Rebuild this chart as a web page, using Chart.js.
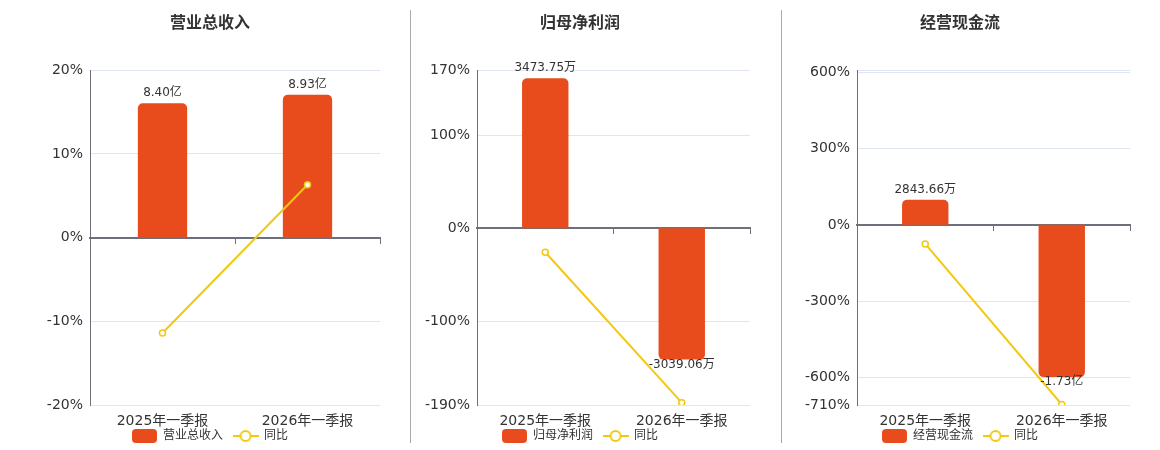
<!DOCTYPE html>
<html>
<head>
<meta charset="utf-8">
<script src="https://cdn.jsdelivr.net/npm/chart.js@4.4.1/dist/chart.umd.min.js"></script>
<style>
    body { margin: 0; background: #fff; width: 1160px; height: 450px; overflow: hidden; position: relative; }
    canvas { position: absolute; top: 0; }
    .sep { position: absolute; top: 10px; width: 1px; height: 433px; background: #aaa; }
</style>
</head>
<body>
<canvas id="c1" width="380" height="450" style="left:20px"></canvas>
<canvas id="c2" width="380" height="450" style="left:390px"></canvas>
<canvas id="c3" width="380" height="450" style="left:770px"></canvas>
<div class="sep" style="left:410px"></div>
<div class="sep" style="left:781px"></div>
<script>
// categories and values (amounts in 万, yoy in %)
var categories = ['2025年一季报', '2026年一季报'];

var revenue = [84000, 89300];
var revenueYoy = [-11.4, 6.31];
var revenueTicks = [-20, -10, 0, 10, 20];
var revenueTickLabels = ['-20%', '-10%', '0%', '10%', '20%'];
var revenueBarRange = [-104600, 104600];

var netProfit = [3473.75, -3039.06];
var netProfitYoy = [-25.8, -187.5];
var netProfitTicks = [-190, -100, 0, 100, 170];
var netProfitTickLabels = ['-190%', '-100%', '0%', '100%', '170%'];
var netProfitBarRange = [-4090, 3660];

var cashFlow = [2843.66, -17300];
var cashFlowYoy = [-75, -708];
var cashFlowTicks = [-710, -600, -300, 0, 300, 600, 610];
var cashFlowTickLabels = ['-710%', '-600%', '-300%', '0%', '300%', '600%', ''];
var cashFlowBarRange = [-20470, 17570];

var BAR = '#E84C1D';
var LINE = '#F2C811';
var AXIS = '#6E7079';
var GRID = '#E0E6F1';

Chart.defaults.font.family = '"DejaVu Sans", "Noto Sans CJK SC", sans-serif';
Chart.defaults.color = '#333';
Chart.defaults.animation = false;

function fmtAmount(v) {
    if (Math.abs(v) >= 10000) return (v / 10000).toFixed(2) + '亿';
    return v.toFixed(2) + '万';
}

function barIcon() {
    var c = document.createElement('canvas');
    c.width = 25; c.height = 14;
    var g = c.getContext('2d');
    g.fillStyle = BAR;
    g.beginPath();
    g.roundRect(0, 0, 25, 14, 4);
    g.fill();
    return c;
}

function lineIcon() {
    var c = document.createElement('canvas');
    c.width = 26; c.height = 14;
    var g = c.getContext('2d');
    g.strokeStyle = LINE;
    g.lineWidth = 2;
    g.beginPath(); g.moveTo(0, 7); g.lineTo(26, 7); g.stroke();
    g.beginPath(); g.arc(13, 7, 5, 0, Math.PI * 2);
    g.fillStyle = '#fff'; g.fill(); g.stroke();
    return c;
}

// value labels on the bars
var barLabels = {
    id: 'barLabels',
    afterLayout: function (chart) {
        // let the category labels run into the legend band instead of being clipped
        chart.scales.x.bottom = chart.height;
    },
    afterDatasetsDraw: function (chart) {
        var ctx = chart.ctx;
        var meta = chart.getDatasetMeta(0);
        var data = chart.data.datasets[0].data;
        ctx.save();
        ctx.font = '12px ' + Chart.defaults.font.family;
        ctx.fillStyle = '#333';
        ctx.textAlign = 'center';
        ctx.textBaseline = 'middle';
        meta.data.forEach(function (el, i) {
            var v = data[i];
            var y = v >= 0 ? el.y - 10 : el.y + 5;
            ctx.fillText(fmtAmount(v), el.x, y);
        });
        ctx.restore();
    }
};

function makeChart(id, title, name, amounts, yoy, ticks, tickLabels, barRange, axisWidth) {
    var icons = [barIcon(), lineIcon()];
    return new Chart(document.getElementById(id), {
        type: 'bar',
        data: {
            labels: categories,
            datasets: [{
                type: 'bar',
                label: name,
                data: amounts,
                yAxisID: 'yb',
                backgroundColor: BAR,
                borderRadius: 5,
                borderSkipped: 'start',
                barPercentage: 0.34,
                categoryPercentage: 1,
                order: 1
            }, {
                type: 'line',
                label: '同比',
                data: yoy,
                yAxisID: 'y',
                borderColor: LINE,
                borderWidth: 2,
                pointRadius: 3,
                pointBorderWidth: 1.5,
                pointBackgroundColor: '#fff',
                pointBorderColor: LINE,
                tension: 0,
                order: 0
            }]
        },
        options: {
            responsive: false,
            layout: { padding: { left: 20, right: 20, bottom: -2 } },
            plugins: {
                title: {
                    display: true,
                    text: title,
                    color: '#333',
                    font: { size: 16, weight: 'bold' },
                    padding: { top: 14, bottom: 37 }
                },
                legend: {
                    position: 'bottom',
                    labels: {
                        usePointStyle: true,
                        pointStyleWidth: 25,
                        padding: 10,
                        font: { size: 12 },
                        generateLabels: function (chart) {
                            var items = Chart.defaults.plugins.legend.labels.generateLabels(chart);
                            items.sort(function (a, b) { return a.datasetIndex - b.datasetIndex; });
                            items.forEach(function (it) { it.pointStyle = icons[it.datasetIndex]; });
                            return items;
                        }
                    }
                },
                tooltip: { enabled: false }
            },
            scales: {
                x: {
                    grid: { display: false },
                    border: { display: false },
                    ticks: { font: { size: 14 }, padding: 0 },
                    afterFit: function (scale) { scale.height = 15; }
                },
                x0: {
                    type: 'category',
                    position: { y: 0 },
                    offset: true,
                    grid: { offset: true, drawOnChartArea: false, drawTicks: true, tickLength: 5, color: AXIS },
                    border: { color: AXIS, width: 2 },
                    ticks: { display: false }
                },
                y: {
                    min: ticks[0],
                    max: ticks[ticks.length - 1],
                    afterBuildTicks: function (scale) {
                        scale.ticks = ticks.map(function (v) { return { value: v }; });
                    },
                    afterFit: function (scale) { scale.width = axisWidth; },
                    grid: { color: GRID, drawTicks: false },
                    border: { color: AXIS, width: 1 },
                    ticks: {
                        font: { size: 14 },
                        padding: 7,
                        callback: function (v, i) { return tickLabels[i]; }
                    }
                },
                yb: {
                    display: false,
                    min: barRange[0],
                    max: barRange[1]
                }
            }
        },
        plugins: [barLabels]
    });
}

makeChart('c1', '营业总收入', '营业总收入', revenue, revenueYoy, revenueTicks, revenueTickLabels, revenueBarRange, 50);
makeChart('c2', '归母净利润', '归母净利润', netProfit, netProfitYoy, netProfitTicks, netProfitTickLabels, netProfitBarRange, 67);
makeChart('c3', '经营现金流', '经营现金流', cashFlow, cashFlowYoy, cashFlowTicks, cashFlowTickLabels, cashFlowBarRange, 67);
</script>
</body>
</html>
